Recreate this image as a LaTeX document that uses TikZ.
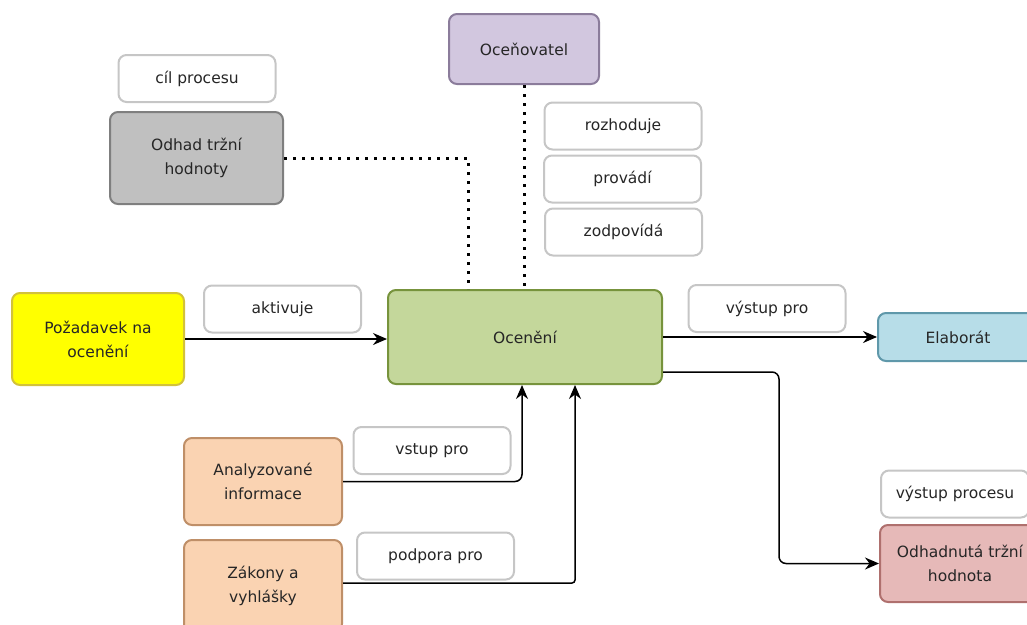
\documentclass[tikz,border=0pt]{standalone}
\usepackage{fontspec}
\setmainfont{DejaVu Sans}
\usetikzlibrary{arrows.meta}
\definecolor{ylwfill}{HTML}{FFFF00}\definecolor{ylwline}{HTML}{D2C23A}
\definecolor{gryfill}{HTML}{C0C0C0}\definecolor{gryline}{HTML}{7F7F7F}
\definecolor{lavfill}{HTML}{D2C7DF}\definecolor{lavline}{HTML}{8B7C9B}
\definecolor{grnfill}{HTML}{C4D79B}\definecolor{grnline}{HTML}{77933C}
\definecolor{blufill}{HTML}{B7DDE8}\definecolor{bluline}{HTML}{5F98AA}
\definecolor{orgfill}{HTML}{FAD3B2}\definecolor{orgline}{HTML}{BF8F68}
\definecolor{pnkfill}{HTML}{E6B9B8}\definecolor{pnkline}{HTML}{AF706E}
\definecolor{lblline}{HTML}{C6C6C6}
\tikzset{
  box/.style={rounded corners=8pt, line width=2pt, align=center, inner sep=0pt,
    font=\fontsize{15.5}{24}\selectfont, text=black!85},
  lbl/.style={box, draw=lblline, fill=white, minimum width=157pt, minimum height=47pt},
  conn/.style={line width=1.5pt, -{Stealth[length=14pt,width=12pt]}},
  dots/.style={line width=3pt, dash pattern=on 3pt off 6pt},
}
\begin{document}
\begin{tikzpicture}[x=1pt,y=-1pt]
\useasboundingbox (0,0) rectangle (1027,624);
% main process and its sources / results
\node[box, draw=grnline, fill=grnfill, minimum width=274pt, minimum height=94pt] (oce) at (525,337) {Ocenění};
\node[box, draw=ylwline, fill=ylwfill, minimum width=172pt, minimum height=92pt] (poz) at (98,339) {Požadavek na\\ocenění};
\node[box, draw=gryline, fill=gryfill, minimum width=173pt, minimum height=92pt] (odh) at (196.5,158) {Odhad tržní\\hodnoty};
\node[box, draw=lavline, fill=lavfill, minimum width=150pt, minimum height=70pt] (ocv) at (524,49) {Oceňovatel};
\node[box, draw=bluline, fill=blufill, minimum width=160pt, minimum height=48pt] (ela) at (958,337) {Elaborát};
\node[box, draw=orgline, fill=orgfill, minimum width=158pt, minimum height=87pt] (ana) at (263,481.5) {Analyzované\\informace};
\node[box, draw=orgline, fill=orgfill, minimum width=158pt, minimum height=92pt] (zak) at (263,586) {Zákony a\\vyhlášky};
\node[box, draw=pnkline, fill=pnkfill, minimum width=160pt, minimum height=77pt] (ohn) at (960,563.5) {Odhadnutá tržní\\hodnota};
% relation labels
\node[lbl] (cil) at (197,78.5) {cíl procesu};
\node[lbl] (roz) at (623,126) {rozhoduje};
\node[lbl] (pro) at (622.5,179) {provádí};
\node[lbl] (zod) at (623.5,232) {zodpovídá};
\node[lbl] (akt) at (282.5,309) {aktivuje};
\node[lbl] (vyp) at (767,308.5) {výstup pro};
\node[lbl] (vst) at (432,450.5) {vstup pro};
\node[lbl] (pod) at (435.5,556) {podpora pro};
\node[lbl, minimum width=148pt] (vpr) at (955,494) {výstup procesu};
% connectors
\draw[conn] (poz.east) -- (oce.west |- poz.east);
\draw[conn] (oce.east) -- (ela.west);
\draw[conn, rounded corners=7pt] ([yshift=-35pt]oce.east) -- ++(116,0) |- (ohn.west);
\draw[conn, rounded corners=7pt] (ana.east) -| ([xshift=-3pt]oce.south);
\draw[conn, rounded corners=3pt] ([yshift=3pt]zak.east) -| ([xshift=50pt]oce.south);
\draw[dots] (odh.east) -| ([xshift=-57pt]oce.north);
\draw[dots] (ocv.south) -- (ocv.south |- oce.north);
\end{tikzpicture}
\end{document}
